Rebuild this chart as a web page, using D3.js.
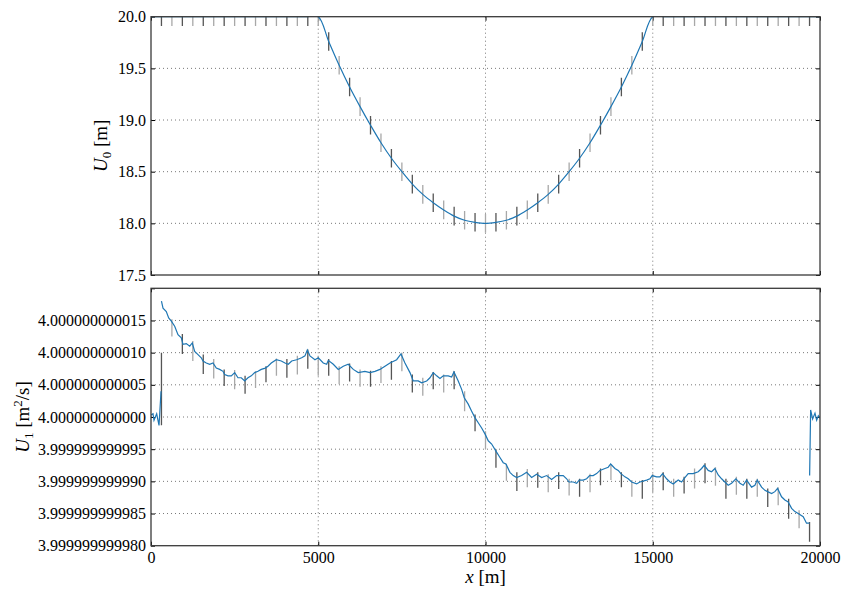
<!DOCTYPE html>
<html>
<head>
<meta charset="utf-8">
<script src="https://cdn.jsdelivr.net/npm/d3@7"></script>
<style>
  body { margin: 0; background: #fff; }
  svg { display: block; font-family: "Liberation Serif", "Times New Roman", "DejaVu Serif", serif; }
</style>
</head>
<body>
<div id="chart"></div>
<script>
// x positions of the samples / markers [m]
var gridX = [0, 312.5, 625, 937.5, 1250, 1562.5, 1875, 2187.5, 2500, 2812.5, 3125, 3437.5, 3750,
  4062.5, 4375, 4687.5, 5000, 5312.5, 5625, 5937.5, 6250, 6562.5, 6875, 7187.5, 7500, 7812.5,
  8125, 8437.5, 8750, 9062.5, 9375, 9687.5, 10000, 10312.5, 10625, 10937.5, 11250, 11562.5,
  11875, 12187.5, 12500, 12812.5, 13125, 13437.5, 13750, 14062.5, 14375, 14687.5, 15000,
  15312.5, 15625, 15937.5, 16250, 16562.5, 16875, 17187.5, 17500, 17812.5, 18125, 18437.5,
  18750, 19062.5, 19375, 19687.5, 20000];

// U0 [m] at gridX
var u0 = [20, 20, 20, 20, 20, 20, 20, 20, 20, 20, 20, 20, 20, 20, 20, 20, 20,
  19.76, 19.53, 19.32, 19.13, 18.95, 18.78, 18.63, 18.50, 18.38, 18.28, 18.20, 18.13, 18.07, 18.03, 18.01,
  18.00,
  18.01, 18.03, 18.07, 18.13, 18.20, 18.28, 18.38, 18.50, 18.63, 18.78, 18.95, 19.13, 19.32, 19.53, 19.76,
  20, 20, 20, 20, 20, 20, 20, 20, 20, 20, 20, 20, 20, 20, 20, 20, 20];

// U1 - 4 in units of 1e-12 m^2/s (null = gap in the line)
var u1X = [0, 60, 90, 170, 240, 300, 306,
  312.5, 359, 457, 529, 608, 708, 807, 906, 956, 1055, 1157, 1234, 1306, 1405, 1503, 1554, 1653, 1755,
  1853, 1952, 2053, 2152, 2203, 2302, 2400, 2502, 2600, 2699, 2801, 2899, 2998, 3100, 3198, 3297,
  3416, 3497, 3596, 3745, 3895, 4005, 4104, 4206, 4355, 4504, 4603, 4672, 4752, 4902, 5001, 5150,
  5252, 5300, 5450, 5598, 5748, 5897, 6047, 6196, 6396, 6546, 6695, 6845, 6994, 7144, 7344, 7473,
  7592, 7742, 7840, 7990, 8091, 8241, 8339, 8438, 8540, 8639, 8737, 8886, 8988, 9057, 9185, 9287,
  9365, 9484, 9586, 9684, 9783, 9885, 9992, 10082, 10184, 10312, 10432, 10530, 10611, 10730, 10829,
  10931, 11080, 11230, 11379, 11529, 11678, 11828, 11977, 12127, 12324, 12426, 12494, 12623, 12724,
  12802, 12922, 13023, 13113, 13220, 13322, 13421, 13570, 13669, 13741, 13869, 13968, 14048, 14168,
  14267, 14368, 14518, 14616, 14817, 14915, 14984, 15115, 15214, 15295, 15414, 15513, 15612, 15761,
  15863, 15931, 16060, 16209, 16359, 16460, 16538, 16658, 16759, 16858, 16957, 17058, 17157, 17256,
  17357, 17486, 17606, 17704, 17806, 17955, 18054, 18123, 18254, 18353, 18433, 18553, 18651, 18732,
  18851, 18950, 19049, 19151, 19249, 19348, 19498, 19597, 19687.5,
  19688,
  19690, 19720, 19780, 19850, 19900, 19950, 20000];
var u1V = [0.3, 0.5, -0.5, 0.5, -1.3, 4.0, null,
  18.0, 16.9, 16.4, 15.4, 14.9, 14.1, 12.8, 12.3, 11.3, 11.4, 11.0, 11.5, 10.2, 9.7, 9.2, 8.7, 8.4, 8.2,
  8.4, 7.6, 7.4, 7.1, 6.6, 6.4, 6.4, 6.9, 6.1, 6.1, 5.6, 6.1, 6.4, 6.9, 7.1, 7.4,
  7.6, 7.9, 8.4, 8.9, 8.7, 8.4, 8.2, 8.7, 8.9, 9.2, 9.5, 10.4, 9.5, 8.9, 9.2, 8.4,
  8.2, 8.8, 8.2, 7.4, 7.9, 8.2, 7.4, 6.9, 7.1, 6.9, 7.1, 7.4, 7.9, 8.4, 8.9, 9.8,
  8.4, 6.9, 5.6, 5.6, 5.3, 5.6, 6.1, 6.9, 6.4, 6.0, 6.4, 6.4, 6.2, 7.0, 5.6, 4.3,
  3.0, 2.0, 0.9, -0.1, -0.9, -1.7, -2.7, -3.7, -4.2, -5.3, -6.3, -7.1, -7.3, -8.6, -9.1,
  -9.4, -9.1, -8.6, -9.4, -8.9, -9.4, -9.1, -9.7, -9.1, -9.1, -9.6, -10.1, -10.1, -10.3,
  -9.8, -9.8, -9.6, -9.1, -9.1, -8.8, -8.3, -8.0, -7.8, -7.3, -8.0, -8.3, -8.8, -9.3,
  -9.6, -10.1, -10.4, -10.1, -9.8, -9.6, -9.1, -9.3, -9.3, -8.8, -9.6, -10.1, -10.4, -9.8,
  -10.1, -9.6, -8.8, -8.8, -8.5, -8.0, -7.5, -8.3, -8.5, -8.0, -9.0, -9.6, -10.1, -10.6,
  -10.3, -9.6, -10.3, -10.6, -9.8, -10.9, -10.6, -9.8, -10.9, -11.4, -11.6, -11.9, -11.6, -11.1,
  -12.4, -12.9, -13.2, -14.2, -14.7, -15.0, -15.5, -16.5, -16.5,
  null,
  -9.1, 1.1, -0.3, 0.6, -0.5, 0.2, -0.2];

// marker bars on U1 (one per gridX[1..63]), same units
var u1BarTop = [10.0, 15.2, 12.9, 11.8, 9.7, 9.0, 7.4, 7.3, 6.4, 7.1, 7.9, 9.1, 9.0, 9.5, 10.5, 9.5,
  9.0, 7.9, 8.3, 7.4, 7.2, 7.9, 8.7, 10.0, 6.6, 6.1, 7.0, 6.6, 7.1, 4.0, 0.4, -2.2,
  -5.0, -7.3, -8.6, -8.1, -8.6, -8.9, -8.6, -9.6, -9.6, -8.8, -8.0, -7.3, -8.6, -9.8, -9.8, -8.8,
  -8.6, -9.6, -9.3, -8.0, -7.2, -7.8, -9.6, -9.3, -9.6, -9.6, -11.1, -10.9, -12.7, -14.5, -16.3];
var u1BarBot = [-1.3, 12.5, 9.8, 8.7, 6.7, 6.0, 4.8, 4.3, 3.6, 4.5, 5.4, 6.4, 6.1, 6.6, 7.5, 6.4,
  6.4, 5.1, 5.5, 4.7, 4.7, 5.3, 5.8, 7.1, 3.8, 3.3, 4.3, 3.8, 4.3, 0.9, -2.2, -5.0,
  -7.9, -9.9, -11.5, -10.9, -11.0, -11.7, -11.2, -12.2, -12.4, -11.7, -10.6, -9.8, -10.9, -12.4, -12.7, -11.7,
  -11.4, -12.4, -11.9, -11.1, -10.3, -10.7, -12.7, -12.1, -12.7, -12.4, -14.0, -13.7, -15.8, -17.3, -19.4];

var xTicks = [0, 5000, 10000, 15000, 20000];
var u0Ticks = [17.5, 18.0, 18.5, 19.0, 19.5, 20.0];
var u1Ticks = [-20, -15, -10, -5, 0, 5, 10, 15, 20];
var u1TickLabels = ["3.999999999980", "3.999999999985", "3.999999999990", "3.999999999995",
  "4.000000000000", "4.000000000005", "4.000000000010", "4.000000000015", ""];

var w = 843, h = 591;
var left = 151, right = 820;
var top0 = 16.7, bot0 = 275;
var top1 = 288.3, bot1 = 545.7;
var barHalf0 = 0.09;
var lineColor = "#1f77b4";
var barColors = ["#555555", "#a8a8a8"];
var serif = "'Liberation Serif', 'Times New Roman', 'DejaVu Serif', serif";

var svg = d3.select("#chart").append("svg")
  .attr("width", w)
  .attr("height", h)
  .style("font-family", serif);

var xscale = d3.scaleLinear().domain([0, 20000]).range([left, right]);
var y0scale = d3.scaleLinear().domain([17.5, 20]).range([bot0, top0]);
var y1scale = d3.scaleLinear().domain([-20, 20]).range([bot1, top1]);

var defs = svg.append("defs");
defs.append("clipPath").attr("id", "clip0").append("rect")
  .attr("x", left).attr("y", top0).attr("width", right - left).attr("height", bot0 - top0);
defs.append("clipPath").attr("id", "clip1").append("rect")
  .attr("x", left).attr("y", top1).attr("width", right - left).attr("height", bot1 - top1);

function drawPanel(yscale, yTicks, yFormat, ytop, ybot, showX) {
  var g = svg.append("g");

  // dotted grid
  g.selectAll(".vgrid")
    .data(xTicks.slice(1, -1))
    .enter().append("line")
    .attr("x1", function(d) { return xscale(d); })
    .attr("x2", function(d) { return xscale(d); })
    .attr("y1", ytop).attr("y2", ybot)
    .style("stroke", "#555").style("stroke-width", 0.8)
    .style("stroke-dasharray", "1,3");
  g.selectAll(".hgrid")
    .data(yTicks.slice(1, -1))
    .enter().append("line")
    .attr("x1", left).attr("x2", right)
    .attr("y1", function(d) { return yscale(d); })
    .attr("y2", function(d) { return yscale(d); })
    .style("stroke", "#555").style("stroke-width", 0.8)
    .style("stroke-dasharray", "1,3");

  // axes with inward ticks on all four sides
  var yaxis = d3.axisLeft(yscale).tickValues(yTicks).tickSizeInner(-4).tickSizeOuter(0)
    .tickPadding(5).tickFormat(yFormat);
  var yaxisR = d3.axisRight(yscale).tickValues(yTicks).tickSizeInner(-4).tickSizeOuter(0)
    .tickFormat("");
  var xaxis = d3.axisBottom(xscale).tickValues(xTicks).tickSizeInner(-4).tickSizeOuter(0)
    .tickPadding(6).tickFormat(showX ? d3.format("d") : "");
  var xaxisT = d3.axisTop(xscale).tickValues(xTicks).tickSizeInner(-4).tickSizeOuter(0)
    .tickFormat("");

  var axes = [
    g.append("g").attr("transform", "translate(" + left + ",0)").call(yaxis),
    g.append("g").attr("transform", "translate(" + right + ",0)").call(yaxisR),
    g.append("g").attr("transform", "translate(0," + ybot + ")").call(xaxis),
    g.append("g").attr("transform", "translate(0," + ytop + ")").call(xaxisT)
  ];
  axes.forEach(function(a) {
    a.attr("font-family", null).attr("font-size", null);
    a.select(".domain").remove();
    a.selectAll("line").style("stroke", "#000");
    a.selectAll("text")
      .style("font-family", serif)
      .style("font-size", "16px")
      .style("fill", "#000");
  });
  return g;
}

function frame(ytop, ybot) {
  svg.append("rect")
    .attr("x", left).attr("y", ytop)
    .attr("width", right - left).attr("height", ybot - ytop)
    .style("fill", "none").style("stroke", "#3a3a3a").style("stroke-width", 1.3);
}

// ---- top panel: U0 ----
drawPanel(y0scale, u0Ticks, d3.format(".1f"), top0, bot0, false);

var bars0 = svg.append("g").attr("clip-path", "url(#clip0)");
bars0.selectAll("line")
  .data(gridX.slice(1, -1))
  .enter().append("line")
  .attr("x1", function(d) { return xscale(d); })
  .attr("x2", function(d) { return xscale(d); })
  .attr("y1", function(d, i) { return y0scale(u0[i + 1] + barHalf0); })
  .attr("y2", function(d, i) { return y0scale(u0[i + 1] - barHalf0); })
  .style("stroke", function(d, i) { return barColors[i % 2]; })
  .style("stroke-width", 1.3);

var line0 = d3.line()
  .x(function(d, i) { return xscale(gridX[i]); })
  .y(function(d) { return y0scale(d); })
  .curve(d3.curveCatmullRom);

svg.append("path")
  .datum(u0)
  .attr("clip-path", "url(#clip0)")
  .attr("d", line0)
  .style("fill", "none")
  .style("stroke", lineColor)
  .style("stroke-width", 1.2);

frame(top0, bot0);

// ---- bottom panel: U1 ----
drawPanel(y1scale, u1Ticks, function(d, i) { return u1TickLabels[i]; }, top1, bot1, true);

var bars1 = svg.append("g").attr("clip-path", "url(#clip1)");
bars1.selectAll("line")
  .data(gridX.slice(1, -1))
  .enter().append("line")
  .attr("x1", function(d) { return xscale(d); })
  .attr("x2", function(d) { return xscale(d); })
  .attr("y1", function(d, i) { return y1scale(u1BarTop[i]); })
  .attr("y2", function(d, i) { return y1scale(u1BarBot[i]); })
  .style("stroke", function(d, i) { return barColors[i % 2]; })
  .style("stroke-width", 1.3);

var line1 = d3.line()
  .defined(function(d) { return d !== null; })
  .x(function(d, i) { return xscale(u1X[i]); })
  .y(function(d) { return y1scale(d); });

svg.append("path")
  .datum(u1V)
  .attr("clip-path", "url(#clip1)")
  .attr("d", line1)
  .style("fill", "none")
  .style("stroke", lineColor)
  .style("stroke-width", 1.2);

frame(top1, bot1);

// ---- axis labels ----
var lab0 = svg.append("text")
  .attr("transform", "translate(107," + ((top0 + bot0) / 2) + ") rotate(-90)")
  .attr("text-anchor", "middle")
  .style("font-size", "19px");
lab0.append("tspan").style("font-style", "italic").text("U");
lab0.append("tspan").attr("dy", 4).style("font-size", "13px").text("0");
lab0.append("tspan").attr("dy", -4).text(" [m]");

var lab1 = svg.append("text")
  .attr("transform", "translate(29," + ((top1 + bot1) / 2) + ") rotate(-90)")
  .attr("text-anchor", "middle")
  .style("font-size", "19px");
lab1.append("tspan").style("font-style", "italic").text("U");
lab1.append("tspan").attr("dy", 4).style("font-size", "13px").text("1");
lab1.append("tspan").attr("dy", -4).text(" [m");
lab1.append("tspan").attr("dy", -7).style("font-size", "13px").text("2");
lab1.append("tspan").attr("dy", 7).text("/s]");

var labx = svg.append("text")
  .attr("x", (left + right) / 2)
  .attr("y", 583)
  .attr("text-anchor", "middle")
  .style("font-size", "19px");
labx.append("tspan").style("font-style", "italic").text("x");
labx.append("tspan").text(" [m]");
</script>
</body>
</html>
